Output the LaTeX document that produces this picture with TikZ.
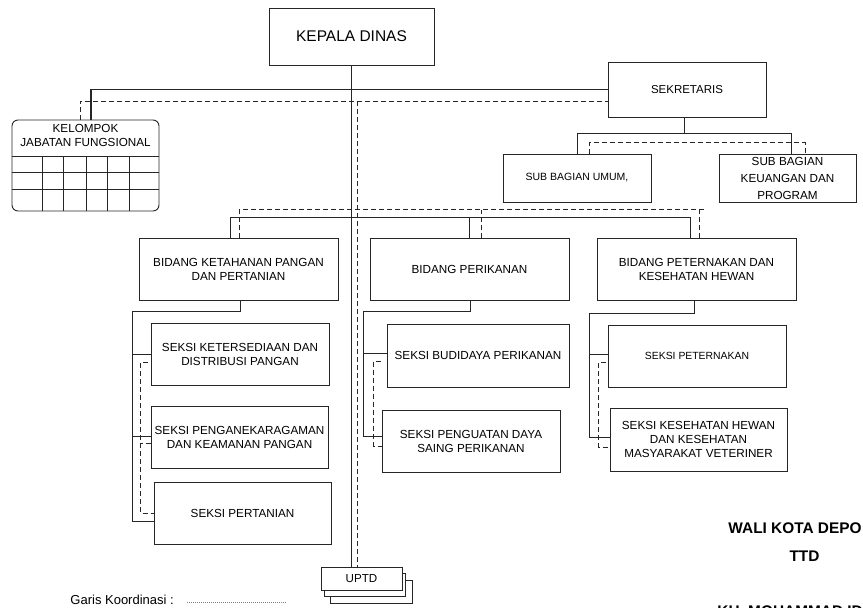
\documentclass[tikz,border=0pt]{standalone}
\usepackage{fontspec}
\setmainfont{Liberation Sans}

\begin{document}
\begin{tikzpicture}[x=1pt, y=-1pt, line width=0.9pt, draw=black!85,
  unit/.style={draw, shape=rectangle, align=center, inner sep=0pt, font=\fontsize{11.7}{14}\selectfont},
  coord/.style={dash pattern=on 5pt off 3pt, line width=0.7pt},
  sign/.style={font=\fontsize{15.4}{18}\selectfont\bfseries, inner sep=0pt}]
\useasboundingbox (0,0) rectangle (863,608);
\clip (0,0) rectangle (863,608);

\node[unit, minimum width=165, minimum height=57, font=\fontsize{15.5}{18}\selectfont] (kadis) at (351.5,36.5) {KEPALA DINAS};
\node[unit, minimum width=158, minimum height=55, font=\fontsize{11.5}{14}\selectfont] (sekr) at (687,89.5) {SEKRETARIS};
\node[unit, minimum width=148, minimum height=48, font=\fontsize{10.5}{13}\selectfont] (umum) at (577,178) {SUB BAGIAN UMUM,};
\node[unit, minimum width=137, minimum height=48, font=\fontsize{11.7}{17}\selectfont] (keu) at (787.5,178) {SUB BAGIAN\\KEUANGAN DAN\\PROGRAM};

\node[draw, rounded corners=6, minimum width=147, minimum height=91, inner sep=0pt] (kjf) at (85.5,165.5) {};
\node[align=center, inner sep=0pt, font=\fontsize{11.7}{14}\selectfont] (kjftitle) at (85.5,135.5) {KELOMPOK\\JABATAN FUNGSIONAL};
\foreach \gy in {156,172,189}
  \draw (kjf.west |- 0,\gy) -- (kjf.east |- 0,\gy);
\foreach \gx in {42,63,86,107,129}
  \draw (\gx,156) -- (kjf.south -| \gx,0);

\node[unit, minimum width=199, minimum height=62] (b1) at (238.5,269) {BIDANG KETAHANAN PANGAN\\DAN PERTANIAN};
\node[unit, minimum width=199, minimum height=62] (b2) at (469.5,269) {BIDANG PERIKANAN};
\node[unit, minimum width=199, minimum height=62] (b3) at (696.5,269) {BIDANG PETERNAKAN DAN\\KESEHATAN HEWAN};

\node[unit, minimum width=178, minimum height=62] (s11) at (240,354) {SEKSI KETERSEDIAAN DAN\\DISTRIBUSI PANGAN};
\node[unit, minimum width=177, minimum height=62] (s12) at (239.5,437) {SEKSI PENGANEKARAGAMAN\\DAN KEAMANAN PANGAN};
\node[unit, minimum width=177, minimum height=62] (s13) at (242.5,513) {SEKSI PERTANIAN};
\node[unit, minimum width=182, minimum height=63] (s21) at (478,355.5) {SEKSI BUDIDAYA PERIKANAN};
\node[unit, minimum width=178, minimum height=62] (s22) at (471,441) {SEKSI PENGUATAN DAYA\\SAING PERIKANAN};
\node[unit, minimum width=178, minimum height=62, font=\fontsize{10.4}{13}\selectfont] (s31) at (697,356) {SEKSI PETERNAKAN};
\node[unit, minimum width=177, minimum height=63] (s32) at (698.5,439.5) {SEKSI KESEHATAN HEWAN\\DAN KESEHATAN\\MASYARAKAT VETERINER};

\node[unit, fill=white, minimum width=82, minimum height=23] (uptd3) at (371,591.5) {};
\node[unit, fill=white, minimum width=81, minimum height=23] (uptd2) at (364.5,584.5) {};
\node[unit, fill=white, minimum width=81, minimum height=23, font=\fontsize{11.6}{14}\selectfont] (uptd) at (361.5,578.5) {UPTD};

% garis komando
\draw (kadis.south) -- (kadis.south |- uptd.north);
\draw[line width=1.8pt] ([xshift=5.5]kjf.north) |- (sekr.west);
\draw ([xshift=-3]sekr.south) -- ++(0,17);
\draw (umum.north) -- ++(0,-20) -| ([xshift=3.5]keu.north);
\draw ([xshift=-8.5]b1.north) -- ++(0,-20) -| ([xshift=-6.5]b3.north);
\draw ([xshift=-0.5]b2.north) -- ++(0,-20);

\coordinate (r1) at (132,311);
\coordinate (r2) at (363,311);
\coordinate (r3) at (589,313);
\draw ([xshift=1.5]b1.south) |- (r1) |- ([yshift=-8]s13.west);
\draw (r1 |- s11.west) -- (s11.west);
\draw ([yshift=1]s12.west) -- ++(-19,0);
\draw ([xshift=0.5]b2.south) |- (r2) |- ([yshift=5]s22.west);
\draw ([yshift=2.5]s21.west) -- ++(-24,0);
\draw ([xshift=-2.5]b3.south) |- (r3) |- ([yshift=2.5]s32.west);
\draw ([yshift=2]s31.west) -- ++(-19,0);

% garis koordinasi
\coordinate (dtop) at (357.5,101);
\draw[coord] ([xshift=-5.5]kjf.north) |- ([yshift=-11.5]sekr.west);
\draw[coord] (dtop) -- (dtop |- uptd.north);
\draw[coord] ([xshift=12]umum.north) -- ++(0,-11) -| ([xshift=17.5]keu.north);
\draw[coord] ([xshift=0.5]b1.north) -- ++(0,-28) -- ++(465,0);
\draw[coord] ([xshift=11.5]b2.north) -- ++(0,-28);
\draw[coord] ([xshift=2.5]b3.north) -- ++(0,-28);
\draw[coord] ([yshift=-8]s11.west) ++(-3,0) -- ++(-7,0) |- (s13.west);
\draw[coord] ([yshift=-6]s12.west) -- ++(-10,0);
\draw[coord] ([yshift=-5.5]s21.west) ++(-6,0) -- ++(-7,0) |- ([yshift=-5]s22.west);
\draw[coord] ([yshift=-6]s31.west) ++(-2,0) -- ++(-7,0) |- ([yshift=-7.5]s32.west);

\node[anchor=west, inner sep=0pt, font=\fontsize{13}{15}\selectfont] (garis) at (70,600) {Garis Koordinasi :};
\coordinate (garisend) at (287,602);
\draw[gray, line width=0.4pt, dash pattern=on 1pt off 1pt] (garisend -| 187,0) -- (garisend);

\node[sign, anchor=west] (wali) at (728,528) {WALI KOTA DEPO};
\node[sign] (ttd) at (804.5,556) {TTD};
\node[sign, anchor=base west] (walinama) at (717,616) {KH. MOHAMMAD IDRIS};
\end{tikzpicture}
\end{document}
